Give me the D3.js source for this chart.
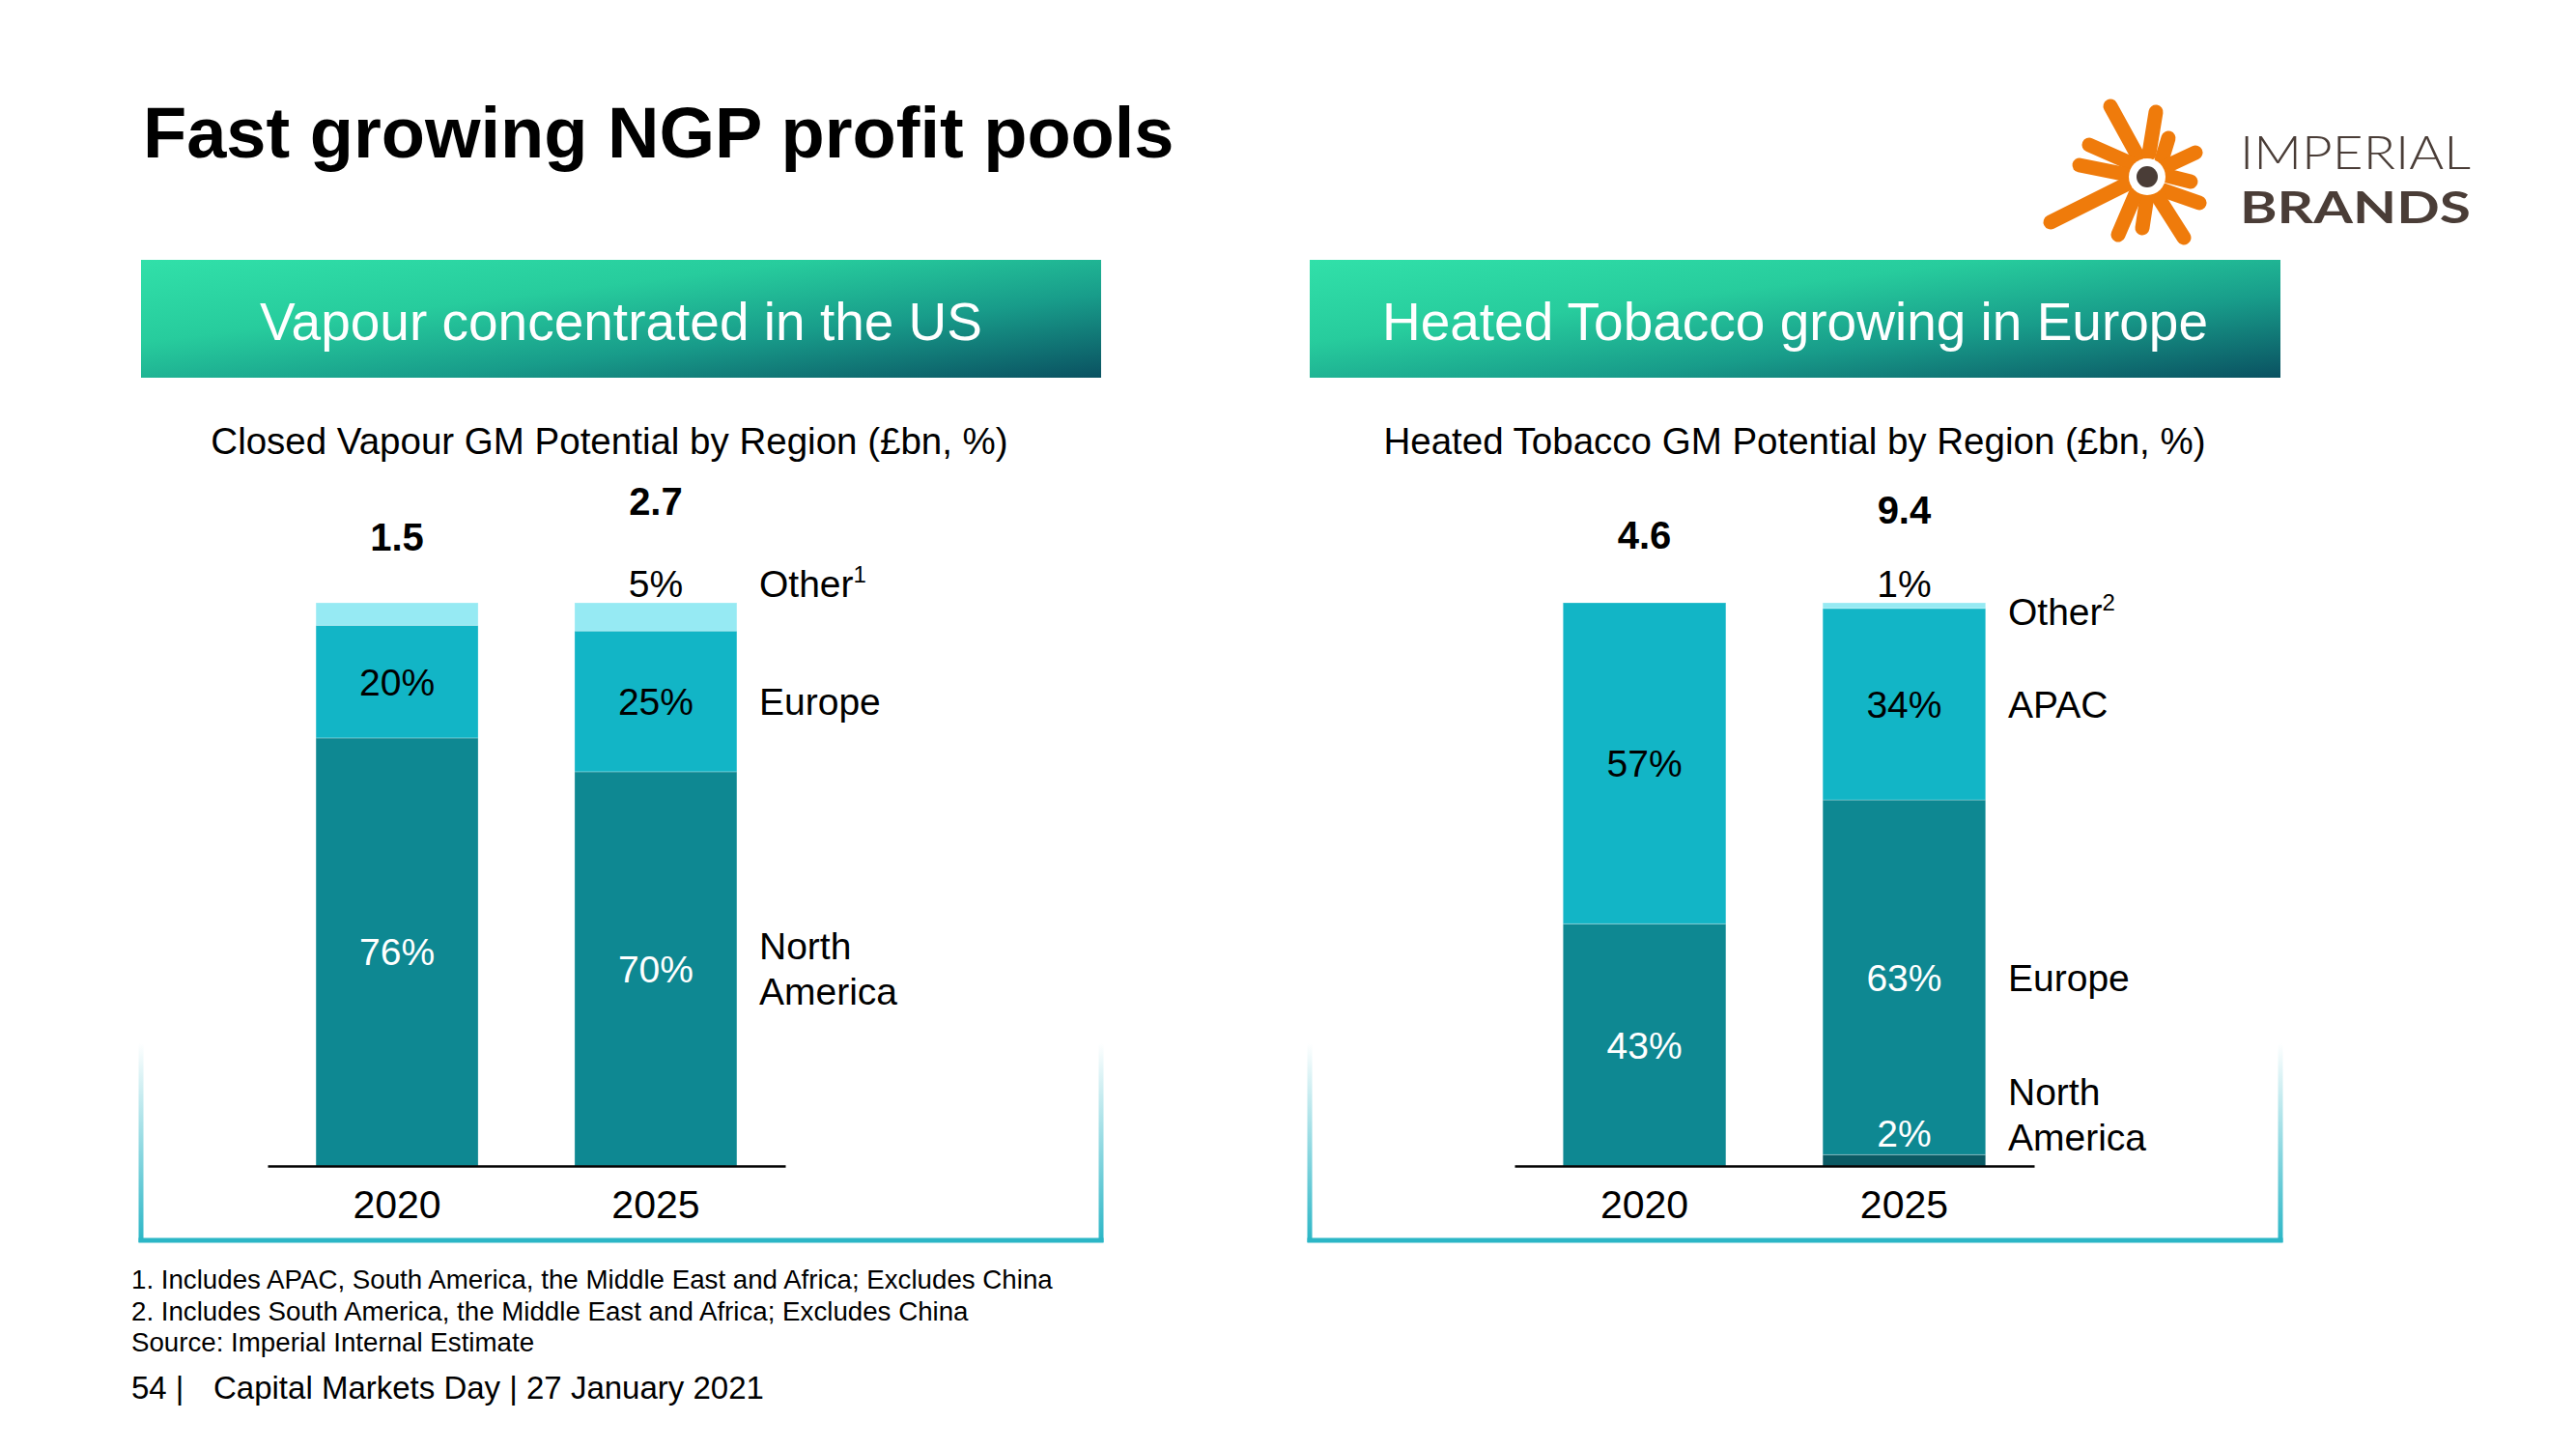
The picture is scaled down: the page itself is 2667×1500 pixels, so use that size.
<!DOCTYPE html>
<html>
<head>
<meta charset="utf-8">
<script src="https://cdn.jsdelivr.net/npm/d3@7"></script>
<style>
  html, body { margin: 0; padding: 0; background: #ffffff; }
  svg { display: block; font-family: "Liberation Sans", Arial, Helvetica, sans-serif; }
</style>
</head>
<body>
<svg id="chart" width="2667" height="1500"></svg>
<script>
// ---------------- DATA ----------------
const years = ["2020", "2025"];

// Closed Vapour GM Potential by Region (%)
const vapourRegions = ["North America", "Europe", "Other"];
const vapourNorthAmerica = [76, 70];
const vapourEurope = [20, 25];
const vapourOther = [4, 5];
const vapourTotals = ["1.5", "2.7"];

// Heated Tobacco GM Potential by Region (%)
const heatedRegions = ["North America", "Europe", "APAC", "Other"];
const heatedNorthAmerica = [0, 2];
const heatedEurope = [43, 63];
const heatedAPAC = [57, 34];
const heatedOther = [0, 1];
const heatedTotals = ["4.6", "9.4"];

// ---------------- SETUP ----------------
const svg = d3.select("#chart");
const FONT = "'Liberation Sans', Arial, Helvetica, sans-serif";
const defs = svg.append("defs");

// header gradient
const hg = defs.append("linearGradient").attr("id", "hdrGrad")
  .attr("x1", "0").attr("y1", "0").attr("x2", "1").attr("y2", "1");
hg.append("stop").attr("offset", "0").attr("stop-color", "#31e0a9");
hg.append("stop").attr("offset", "0.35").attr("stop-color", "#27cc9d");
hg.append("stop").attr("offset", "0.65").attr("stop-color", "#189c8a");
hg.append("stop").attr("offset", "1").attr("stop-color", "#0a5161");

// frame side gradient
const fg = defs.append("linearGradient").attr("id", "frameGrad")
  .attr("x1", "0").attr("y1", "0").attr("x2", "0").attr("y2", "1");
fg.append("stop").attr("offset", "0").attr("stop-color", "#2bb6c6").attr("stop-opacity", 0);
fg.append("stop").attr("offset", "1").attr("stop-color", "#2bb6c6").attr("stop-opacity", 1);

// ---------------- TITLE ----------------
svg.append("text").attr("x", 148).attr("y", 163)
  .attr("font-size", 74).attr("font-weight", "bold").attr("fill", "#000")
  .text("Fast growing NGP profit pools");

// ---------------- LOGO ----------------
const logo = svg.append("g").attr("transform", "translate(2223,183)");
const arms = [
  [[-10, -22], [-38, -73]],
  [[2, -24], [9, -67]],
  [[-17, -14], [-60, -33]],
  [[-20, -2], [-70, -12]],
  [[-22, 8], [-100, 47]],
  [[15, -17], [22, -40]],
  [[18, -10], [50, -25]],
  [[21, -1], [45, 5]],
  [[14, 13], [54, 27]],
  [[10, 19], [38, 63]],
  [[0, 20], [-5, 53]],
  [[-12, 18], [-30, 60]]
];
logo.selectAll("line").data(arms).join("line")
  .attr("x1", d => d[0][0]).attr("y1", d => d[0][1])
  .attr("x2", d => d[1][0]).attr("y2", d => d[1][1])
  .attr("stroke", "#ef7b0b").attr("stroke-width", 15).attr("stroke-linecap", "round");
logo.append("circle").attr("r", 19).attr("fill", "#fff");
logo.append("circle").attr("r", 11).attr("fill", "#4a3d37");
svg.append("text").attr("x", 2319).attr("y", 175)
  .attr("font-size", 47).attr("font-weight", 300).attr("fill", "#4a3d37")
  .attr("font-family", "Lato, 'Open Sans', sans-serif")
  .attr("textLength", 239).attr("lengthAdjust", "spacingAndGlyphs")
  .text("IMPERIAL");
svg.append("text").attr("x", 2319).attr("y", 231)
  .attr("font-size", 46).attr("font-weight", "bold").attr("fill", "#4a3d37")
  .attr("font-family", "Lato, 'Open Sans', sans-serif")
  .attr("textLength", 239).attr("lengthAdjust", "spacingAndGlyphs")
  .text("BRANDS");

// ---------------- PANELS ----------------
const colors = {
  dark: "#0b5a64",
  mid: "#0e8892",
  light: "#12b5c6",
  pale: "#96eaf3"
};

function panel(cfg) {
  // header box
  svg.append("rect").attr("x", cfg.x0).attr("y", 269)
    .attr("width", cfg.x1 - cfg.x0).attr("height", 122).attr("fill", "url(#hdrGrad)");
  svg.append("text").attr("x", (cfg.x0 + cfg.x1) / 2).attr("y", 352)
    .attr("text-anchor", "middle").attr("font-size", 55).attr("fill", "#fff")
    .text(cfg.header);
  // frame
  const fy0 = 1080, fy1 = 1286;
  [cfg.x0, cfg.x1].forEach(x => {
    svg.append("rect").attr("x", x - 2.5).attr("y", fy0).attr("width", 5)
      .attr("height", fy1 - fy0).attr("fill", "url(#frameGrad)");
  });
  svg.append("rect").attr("x", cfg.x0 - 2.5).attr("y", 1281.5)
    .attr("width", cfg.x1 - cfg.x0 + 5).attr("height", 5).attr("fill", "#2bb6c6");
  // subtitle
  svg.append("text").attr("x", cfg.subX).attr("y", 470)
    .attr("text-anchor", "middle").attr("font-size", 38.5).attr("fill", "#000")
    .text(cfg.subtitle);

  // scales
  const x = d3.scaleBand().domain(years).range(cfg.axisRange)
    .paddingInner(0.373).paddingOuter(0.187);
  const y = d3.scaleLinear().domain([0, 100]).range([1207, 624]);

  // stack
  const rows = years.map((yr, i) => {
    const r = { year: yr };
    cfg.keys.forEach((k, j) => { r[k] = cfg.series[j][i]; });
    return r;
  });
  const stacked = d3.stack().keys(cfg.keys)(rows);

  const g = svg.append("g");
  stacked.forEach((layer, li) => {
    g.selectAll(null).data(layer.filter(d => d[1] - d[0] > 0)).join("rect")
      .attr("x", d => x(d.data.year))
      .attr("width", x.bandwidth())
      .attr("y", d => y(d[1]))
      .attr("height", d => y(d[0]) - y(d[1]))
      .attr("fill", cfg.colors[li])
      .attr("stroke", "rgba(255,255,255,0.25)").attr("stroke-width", 1);
  });

  // segment labels
  cfg.labels.forEach(lb => {
    const layer = stacked[cfg.keys.indexOf(lb.key)];
    const d = layer[years.indexOf(lb.year)];
    const cx = x(lb.year) + x.bandwidth() / 2;
    let yy;
    if (lb.pos === "above") yy = y(d[1]) - 6;
    else if (lb.pos === "aboveSeg") yy = y(d[1]) - 8;
    else yy = (y(d[0]) + y(d[1])) / 2 + 14;
    g.append("text").attr("x", cx).attr("y", yy).attr("text-anchor", "middle")
      .attr("font-size", 39).attr("fill", lb.color)
      .text((d[1] - d[0]) + "%");
  });

  // totals
  years.forEach((yr, i) => {
    g.append("text").attr("x", x(yr) + x.bandwidth() / 2)
      .attr("y", y(100) - cfg.totalOffsets[i])
      .attr("text-anchor", "middle").attr("font-size", 40).attr("font-weight", "bold")
      .attr("fill", "#000").text(cfg.totals[i]);
  });

  // axis
  const ax = g.append("g").attr("transform", "translate(0,1207)")
    .call(d3.axisBottom(x).tickSize(0).tickPadding(25));
  ax.select(".domain").attr("stroke", "#000").attr("stroke-width", 2.5);
  ax.selectAll("text").attr("font-size", 41).attr("font-family", FONT).attr("fill", "#000");

  // legend labels (right of 2025 bar)
  const lx = cfg.legendX;
  cfg.legend.forEach(lg => {
    const layer = stacked[cfg.keys.indexOf(lg.key)];
    const d = layer[1];
    const center = (y(d[0]) + y(d[1])) / 2;
    const t = g.append("text").attr("x", lx).attr("font-size", 39).attr("fill", "#000");
    if (lg.lines.length === 1) {
      t.attr("y", lg.anchor === "top" ? y(100) + lg.dy : center + 14 + lg.dy);
      t.append("tspan").text(lg.lines[0]);
      if (lg.sup) t.append("tspan").attr("font-size", 24).attr("dy", -15).text(lg.sup);
    } else {
      t.attr("y", center - 10 + lg.dy);
      lg.lines.forEach((ln, k) => {
        t.append("tspan").attr("x", lx).attr("dy", k === 0 ? 0 : 47).text(ln);
      });
    }
  });
}

panel({
  x0: 146, x1: 1140, subX: 631,
  header: "Vapour concentrated in the US",
  subtitle: "Closed Vapour GM Potential by Region (£bn, %)",
  axisRange: [277, 813],
  keys: vapourRegions,
  series: [vapourNorthAmerica, vapourEurope, vapourOther],
  colors: [colors.mid, colors.light, colors.pale],
  totals: vapourTotals,
  totalOffsets: [54, 91],
  labels: [
    { key: "North America", year: "2020", color: "#fff" },
    { key: "Europe", year: "2020", color: "#000" },
    { key: "North America", year: "2025", color: "#fff" },
    { key: "Europe", year: "2025", color: "#000" },
    { key: "Other", year: "2025", color: "#000", pos: "above" }
  ],
  legendX: 786,
  legend: [
    { key: "Other", lines: ["Other"], sup: "1", anchor: "top", dy: -6 },
    { key: "Europe", lines: ["Europe"], dy: 0 },
    { key: "North America", lines: ["North", "America"], dy: 0 }
  ]
});

panel({
  x0: 1356, x1: 2361, subX: 1858,
  header: "Heated Tobacco growing in Europe",
  subtitle: "Heated Tobacco GM Potential by Region (£bn, %)",
  axisRange: [1568, 2106],
  keys: heatedRegions,
  series: [heatedNorthAmerica, heatedEurope, heatedAPAC, heatedOther],
  colors: [colors.dark, colors.mid, colors.light, colors.pale],
  totals: heatedTotals,
  totalOffsets: [56, 82],
  labels: [
    { key: "Europe", year: "2020", color: "#fff" },
    { key: "APAC", year: "2020", color: "#000" },
    { key: "Europe", year: "2025", color: "#fff" },
    { key: "APAC", year: "2025", color: "#000" },
    { key: "Other", year: "2025", color: "#000", pos: "above" },
    { key: "North America", year: "2025", color: "#fff", pos: "aboveSeg" }
  ],
  legendX: 2079,
  legend: [
    { key: "Other", lines: ["Other"], sup: "2", anchor: "top", dy: 23 },
    { key: "APAC", lines: ["APAC"], dy: 0 },
    { key: "Europe", lines: ["Europe"], dy: 0 },
    { key: "North America", lines: ["North", "America"], dy: -47 }
  ]
});

// ---------------- FOOTNOTES ----------------
const notes = [
  "1. Includes APAC, South America, the Middle East and Africa; Excludes China",
  "2. Includes South America, the Middle East and Africa; Excludes China",
  "Source: Imperial Internal Estimate"
];
svg.selectAll(".note").data(notes).join("text").attr("class", "note")
  .attr("x", 136).attr("y", (d, i) => 1334 + i * 32.5)
  .attr("font-size", 27.7).attr("fill", "#000").text(d => d);
svg.append("text").attr("x", 136).attr("y", 1448).attr("font-size", 33).attr("fill", "#000")
  .text("54 |");
svg.append("text").attr("x", 221).attr("y", 1448).attr("font-size", 33).attr("fill", "#000")
  .text("Capital Markets Day | 27 January 2021");
</script>
</body>
</html>
